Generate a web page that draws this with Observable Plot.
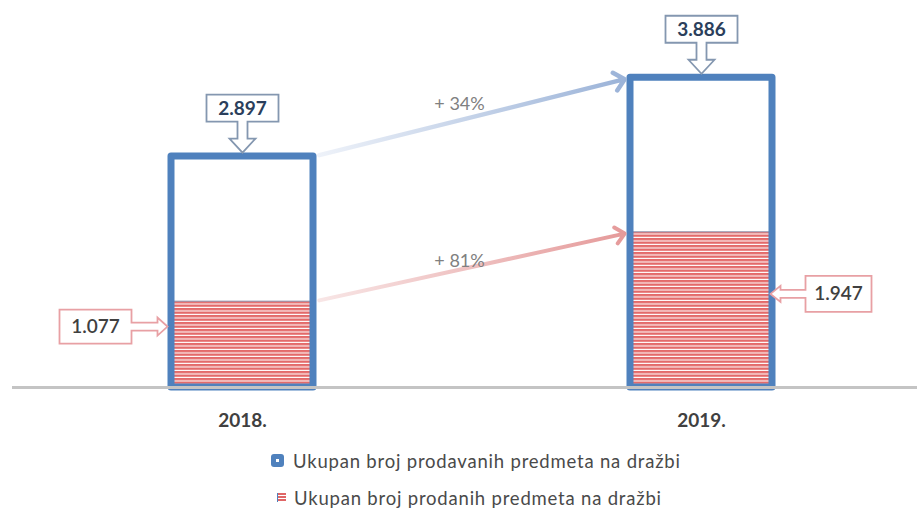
<!DOCTYPE html>
<html><head><meta charset="utf-8">
<script src="https://cdn.jsdelivr.net/npm/d3@7"></script>
<script src="https://cdn.jsdelivr.net/npm/@observablehq/plot@0.6"></script>
<style>
body{margin:0;background:#fff;font-family:Lato,"Open Sans",sans-serif;}
#wrap{width:917px;position:relative;}
.legend{padding-left:271px;padding-top:2px;}
.item{height:37px;display:flex;align-items:center;font-size:18.5px;color:#4a4a4a;letter-spacing:0.8px;}
.sw1{width:13px;height:13px;border-radius:3px;background:#4f81bd;margin-right:9px;position:relative;}
.sw1::after{content:"";position:absolute;left:5px;top:5px;width:3px;height:3px;background:#fff;}
.sw2{width:8px;height:9px;margin-left:6px;margin-right:8px;background:repeating-linear-gradient(#e06666 0 2px,#fff 2px 3px);border-left:1px solid #4f81bd;}
</style></head><body><div id="wrap"></div>
<script>
const years = ["2018.", "2019."];
const totals = [2897, 3886];
const sold = [1077, 1947];
const seriesNames = ["Ukupan broj prodavanih predmeta na dražbi", "Ukupan broj prodanih predmeta na dražbi"];
const yMax = 4855;

const fmt = d3.formatLocale({decimal: ",", thousands: ".", grouping: [3], currency: ["", ""]}).format(",d");
const data = years.map((year, i) => ({year, total: totals[i], sold: sold[i]}));
const growthTotal = [{from: years[0], to: years[1], v1: totals[0], v2: totals[1], pct: totals[1] / totals[0] - 1}];
const growthSold = [{from: years[0], to: years[1], v1: sold[0], v2: sold[1], pct: sold[1] / sold[0] - 1}];
const pctFmt = d => "+ " + Math.round(d.pct * 100) + "%";

// custom callout symbols (shape drawn relative to anchor point)
const calloutDown = {draw(c) {
  c.moveTo(-36, -62); c.lineTo(36, -62); c.lineTo(36, -35); c.lineTo(5, -35); c.lineTo(5, -18);
  c.lineTo(13, -18); c.lineTo(0, -4); c.lineTo(-13, -18); c.lineTo(-5, -18); c.lineTo(-5, -35);
  c.lineTo(-36, -35); c.closePath();
}};
const calloutLeft = {draw(c) { // box on the left, arrow pointing right to the bar
  c.moveTo(-183, -17); c.lineTo(-111, -17); c.lineTo(-111, -4); c.lineTo(-85, -4); c.lineTo(-85, -9);
  c.lineTo(-75, 0); c.lineTo(-85, 9); c.lineTo(-85, 4); c.lineTo(-111, 4); c.lineTo(-111, 17);
  c.lineTo(-183, 17); c.closePath();
}};
const calloutRight = {draw(c) { // box on the right, arrow pointing left to the bar
  c.moveTo(170, -18); c.lineTo(104, -18); c.lineTo(104, -4); c.lineTo(79, -4); c.lineTo(79, -8);
  c.lineTo(69, 0); c.lineTo(79, 8); c.lineTo(79, 4); c.lineTo(104, 4); c.lineTo(104, 18);
  c.lineTo(170, 18); c.closePath();
}};

const shiftToEdges = (index, scales, values, dimensions, context, next) => {
  const bw = scales.x && scales.x.bandwidth ? scales.x.bandwidth() : 0;
  const x1 = Array.from(values.x1, v => v + bw / 2);
  const x2 = Array.from(values.x2, v => v - bw / 2);
  return next(index, scales, {...values, x1, x2}, dimensions, context);
};

const font = "Lato, 'Open Sans', sans-serif";

const plot = Plot.plot({
  width: 917, height: 440,
  marginTop: 0, marginBottom: 53, marginLeft: 12, marginRight: 0,
  style: {fontFamily: font, background: "#fff"},
  x: {domain: years, range: [11.75, 930.75], paddingInner: 0.69, paddingOuter: 0.345, label: null,
      tickSize: 0, tickPadding: 26},
  y: {domain: [0, yMax], axis: null},
  marks: [
    Plot.barY(data, {x: "year", y: "sold", fill: "url(#stripes)", stroke: "#8a94b0", strokeWidth: 1}),
    Plot.barY(data, {x: "year", y: "total", fill: "none", stroke: "#4f81bd", strokeWidth: 7, strokeLinejoin: "round"}),
    Plot.ruleY([0], {stroke: "#c4c4c4", strokeWidth: 3}),
    Plot.arrow(growthTotal, {x1: "from", x2: "to", y1: "v1", y2: "v2", stroke: "url(#gradBlue)", strokeWidth: 4.5,
      headLength: 4.5, headAngle: 85, insetStart: 6, insetEnd: 6, render: shiftToEdges}),
    Plot.arrow(growthSold, {x1: "from", x2: "to", y1: "v1", y2: "v2", stroke: "url(#gradRed)", strokeWidth: 4,
      headLength: 4.5, headAngle: 85, insetStart: 6, insetEnd: 6, render: shiftToEdges}),
    Plot.text(growthTotal, {x: "from", y: d => (d.v1 + d.v2) / 2, text: pctFmt, dx: 217, dy: -13, fill: "#808080", fontSize: 18}),
    Plot.text(growthSold, {x: "from", y: d => (d.v1 + d.v2) / 2, text: pctFmt, dx: 217, dy: -6, fill: "#808080", fontSize: 18}),
    Plot.dot(data, {x: "year", y: "total", symbol: calloutDown, fill: "#fff", stroke: "#8497b0", strokeWidth: 1.8, r: 5}),
    Plot.text(data, {x: "year", y: "total", text: d => fmt(d.total), dy: -48, fill: "#2b3f5c", fontSize: 19, fontWeight: 700}),
    Plot.dot(data.slice(0, 1), {x: "year", y: d => d.sold / 2, symbol: calloutLeft, fill: "#fff", stroke: "#e8a0a4", strokeWidth: 1.8, r: 5, dy: -18}),
    Plot.text(data.slice(0, 1), {x: "year", y: d => d.sold / 2, text: d => fmt(d.sold), dx: -147, dy: -18, fill: "#404040", fontSize: 19, fontWeight: 600}),
    Plot.dot(data.slice(1), {x: "year", y: d => d.sold / 2, symbol: calloutRight, fill: "#fff", stroke: "#e8a0a4", strokeWidth: 1.8, r: 5, dy: -16}),
    Plot.text(data.slice(1), {x: "year", y: d => d.sold / 2, text: d => fmt(d.sold), dx: 137, dy: -16, fill: "#404040", fontSize: 19, fontWeight: 600}),
    Plot.axisX({tickSize: 0, tickPadding: 26, fontSize: 19, fontWeight: 700, fill: "#404040", label: null})
  ]
});

const svg = d3.select(plot);
const defs = svg.insert("defs", ":first-child");
const pat = defs.append("pattern").attr("id", "stripes").attr("patternUnits", "userSpaceOnUse")
  .attr("width", 8).attr("height", 3.5);
pat.append("rect").attr("width", 8).attr("height", 3.5).attr("fill", "#fff");
pat.append("rect").attr("width", 8).attr("height", 2.4).attr("fill", "#e36a6a");
const gb = defs.append("linearGradient").attr("id", "gradBlue");
gb.append("stop").attr("offset", "0%").attr("stop-color", "#eef2f9");
gb.append("stop").attr("offset", "100%").attr("stop-color", "#9bb3d8");
const gr = defs.append("linearGradient").attr("id", "gradRed");
gr.append("stop").attr("offset", "0%").attr("stop-color", "#f8e6e6");
gr.append("stop").attr("offset", "100%").attr("stop-color", "#e59a9a");

const wrap = document.getElementById("wrap");
wrap.appendChild(plot);
const legend = document.createElement("div");
legend.className = "legend";
legend.innerHTML = `<div class="item"><span class="sw1"></span>${seriesNames[0]}</div>` +
  `<div class="item"><span class="sw2"></span>${seriesNames[1]}</div>`;
wrap.appendChild(legend);
</script></body></html>
